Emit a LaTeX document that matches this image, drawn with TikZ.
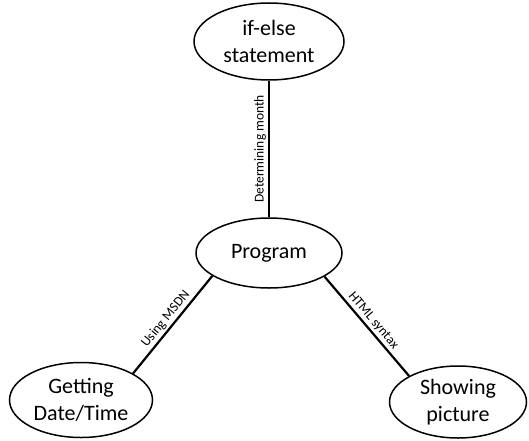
\documentclass[tikz,border=0pt]{standalone}
\usepackage{fontspec}
\setmainfont{Carlito}
\usetikzlibrary{shapes.geometric}
\begin{document}
\begin{tikzpicture}[x=1pt,y=1pt,
  bubble/.style={draw, ellipse, line width=1.5pt, inner sep=0pt, align=center,
    font=\fontsize{22}{27}\selectfont},
  link/.style={line width=2.2pt},
  lbl/.style={font=\fontsize{13.5}{16}\selectfont, sloped, above, midway, inner sep=2pt}]
\useasboundingbox (0,0) rectangle (529,440);
\node[bubble, minimum width=150pt, minimum height=77pt] (ifelse) at (269,398.5) {if-else\\statement};
\node[bubble, minimum width=146pt, minimum height=70pt] (prog) at (269,187) {Program};
\node[bubble, minimum width=143pt, minimum height=75pt] (get) at (81,40) {Getting\\Date/Time};
\node[bubble, minimum width=137pt, minimum height=72pt] (show) at (458,38) {Showing\\picture};
\draw[link] (prog.north) -- node[lbl]{Determining month} (ifelse.south);
\draw[link] (get.27.6) -- node[lbl]{Using MSDN} (prog.202.2);
\draw[link] (prog.337.8) -- node[lbl]{HTML syntax} (show.152.5);
\end{tikzpicture}
\end{document}
